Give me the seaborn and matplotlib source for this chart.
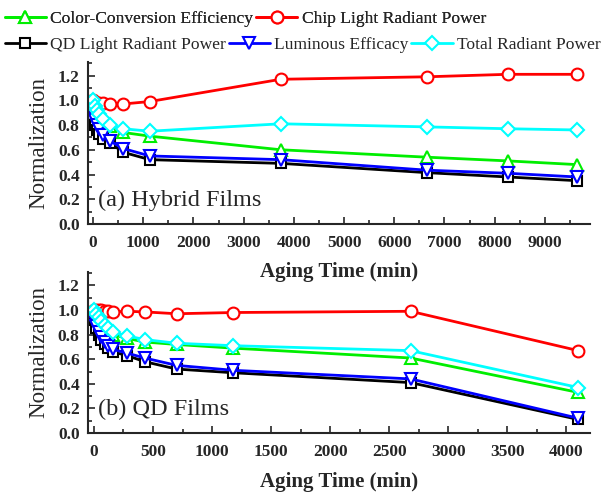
import matplotlib
matplotlib.use("Agg")
import matplotlib.pyplot as plt
import seaborn as sns
import pandas as pd
from matplotlib.ticker import MultipleLocator

# (a) Hybrid films
time_a = [0, 40, 80, 120, 200, 340, 600, 1130, 3740, 6650, 8260, 9640]
cce_a = [1.0, 0.95, 0.91, 0.88, 0.84, 0.79, 0.74, 0.71, 0.60, 0.54, 0.51, 0.48]
chip_a = [1.0, 0.99, 0.98, 0.98, 0.98, 0.97, 0.97, 0.99, 1.17, 1.19, 1.21, 1.21]
qd_a = [0.88, 0.80, 0.76, 0.73, 0.69, 0.655, 0.58, 0.52, 0.49, 0.415, 0.38, 0.35]
lum_a = [0.90, 0.84, 0.80, 0.77, 0.72, 0.67, 0.61, 0.55, 0.52, 0.435, 0.41, 0.38]
total_a = [1.0, 0.95, 0.92, 0.89, 0.85, 0.80, 0.77, 0.75, 0.81, 0.785, 0.77, 0.76]

# (b) QD films
time_b = [0, 20, 40, 60, 90, 120, 160, 280, 430, 700, 1180, 2680, 4100]
cce_b = [1.0, 0.96, 0.93, 0.90, 0.86, 0.83, 0.80, 0.77, 0.74, 0.72, 0.69, 0.61, 0.33]
chip_b = [1.0, 1.0, 1.0, 1.0, 0.99, 0.99, 0.985, 0.99, 0.985, 0.97, 0.98, 0.99, 0.67]
qd_b = [0.92, 0.85, 0.80, 0.76, 0.72, 0.69, 0.66, 0.63, 0.58, 0.52, 0.49, 0.41, 0.11]
lum_b = [0.93, 0.87, 0.82, 0.78, 0.74, 0.71, 0.68, 0.65, 0.61, 0.55, 0.51, 0.44, 0.12]
total_b = [1.0, 0.97, 0.94, 0.91, 0.88, 0.85, 0.82, 0.79, 0.76, 0.73, 0.71, 0.67, 0.37]

names = ['Color-Conversion Efficiency', 'Chip Light Radiant Power',
         'QD Light Radiant Power', 'Luminous Efficacy', 'Total Radiant Power']
colors = ['#00ee00', '#ff0000', '#000000', '#0000ff', '#00ffff']
markers = ['^', 'o', 's', 'v', 'D']
msizes = [8.5, 8.5, 7.5, 8.5, 7.5]

sns.set_style('ticks')
plt.rcParams['font.family'] = ['Liberation Serif', 'DejaVu Serif']

fig = plt.figure(figsize=(6.13, 4.94), dpi=100)
ax_a = fig.add_axes([0.1436, 0.5466, 0.819, 0.328])
ax_b = fig.add_axes([0.1436, 0.1235, 0.819, 0.326])
ax_b.set_facecolor('none')  # keep the upper x label visible


def draw_panel(ax, t, series, xlim, xmajor, xminor, label, xlab_y):
    for name, vals, c, m, ms in zip(names, series, colors, markers, msizes):
        df = pd.DataFrame({'t': t, 'v': vals})
        sns.lineplot(data=df, x='t', y='v', ax=ax, color=c, marker=m,
                     markersize=ms, markerfacecolor='white', markeredgecolor=c,
                     markeredgewidth=1.5, linewidth=2, label=name, legend=False)
    ax.set_xlim(*xlim)
    ax.set_ylim(0, 1.31)
    ax.xaxis.set_major_locator(MultipleLocator(xmajor))
    ax.xaxis.set_minor_locator(MultipleLocator(xminor))
    ax.yaxis.set_minor_locator(MultipleLocator(0.1))
    ax.set_yticks([0, 0.2, 0.4, 0.6, 0.8, 1.0, 1.2])
    ax.set_yticklabels(['0.0', '0.2', '0.4', '0.6', '0.8', '1.0', '1.2'])
    ax.tick_params(which='both', direction='in', width=1.2)
    ax.tick_params(which='major', length=5, labelsize=12.5)
    ax.tick_params(axis='x', which='major', pad=8)
    ax.tick_params(axis='y', which='major', pad=6)
    ax.tick_params(which='minor', length=3)
    for lab in ax.get_xticklabels() + ax.get_yticklabels():
        lab.set_fontweight('bold')
    for s in ['top', 'right']:
        ax.spines[s].set_visible(False)
    for s in ['left', 'bottom']:
        ax.spines[s].set_linewidth(1.5)
    ax.set_xlabel('Aging Time (min)', fontsize=15, fontweight='bold')
    ax.xaxis.set_label_coords(0.5, xlab_y)
    ax.set_ylabel('Normalization', fontsize=16.5, labelpad=6)
    ax.text(0.02, 0.11, label, transform=ax.transAxes, fontsize=17.5)


draw_panel(ax_a, time_a, [cce_a, chip_a, qd_a, lum_a, total_a],
           (-100, 9900), 1000, 500, '(a) Hybrid Films', -0.235)
draw_panel(ax_b, time_b, [cce_b, chip_b, qd_b, lum_b, total_b],
           (-50, 4200), 500, 250, '(b) QD Films', -0.245)

handles, labels = ax_a.get_legend_handles_labels()
leg_kw = dict(frameon=False, fontsize=12.6, handlelength=2.35, handletextpad=0.25,
              columnspacing=0.15, borderaxespad=0, borderpad=0)
leg1 = fig.legend(handles[:2], labels[:2], ncol=2, loc='upper left',
                  bbox_to_anchor=(0.008, 0.978), **leg_kw)
fig.add_artist(leg1)
fig.legend(handles[2:], labels[2:], ncol=3, loc='upper left',
           bbox_to_anchor=(0.008, 0.925), **leg_kw)

fig.savefig('out.png', dpi=100)
